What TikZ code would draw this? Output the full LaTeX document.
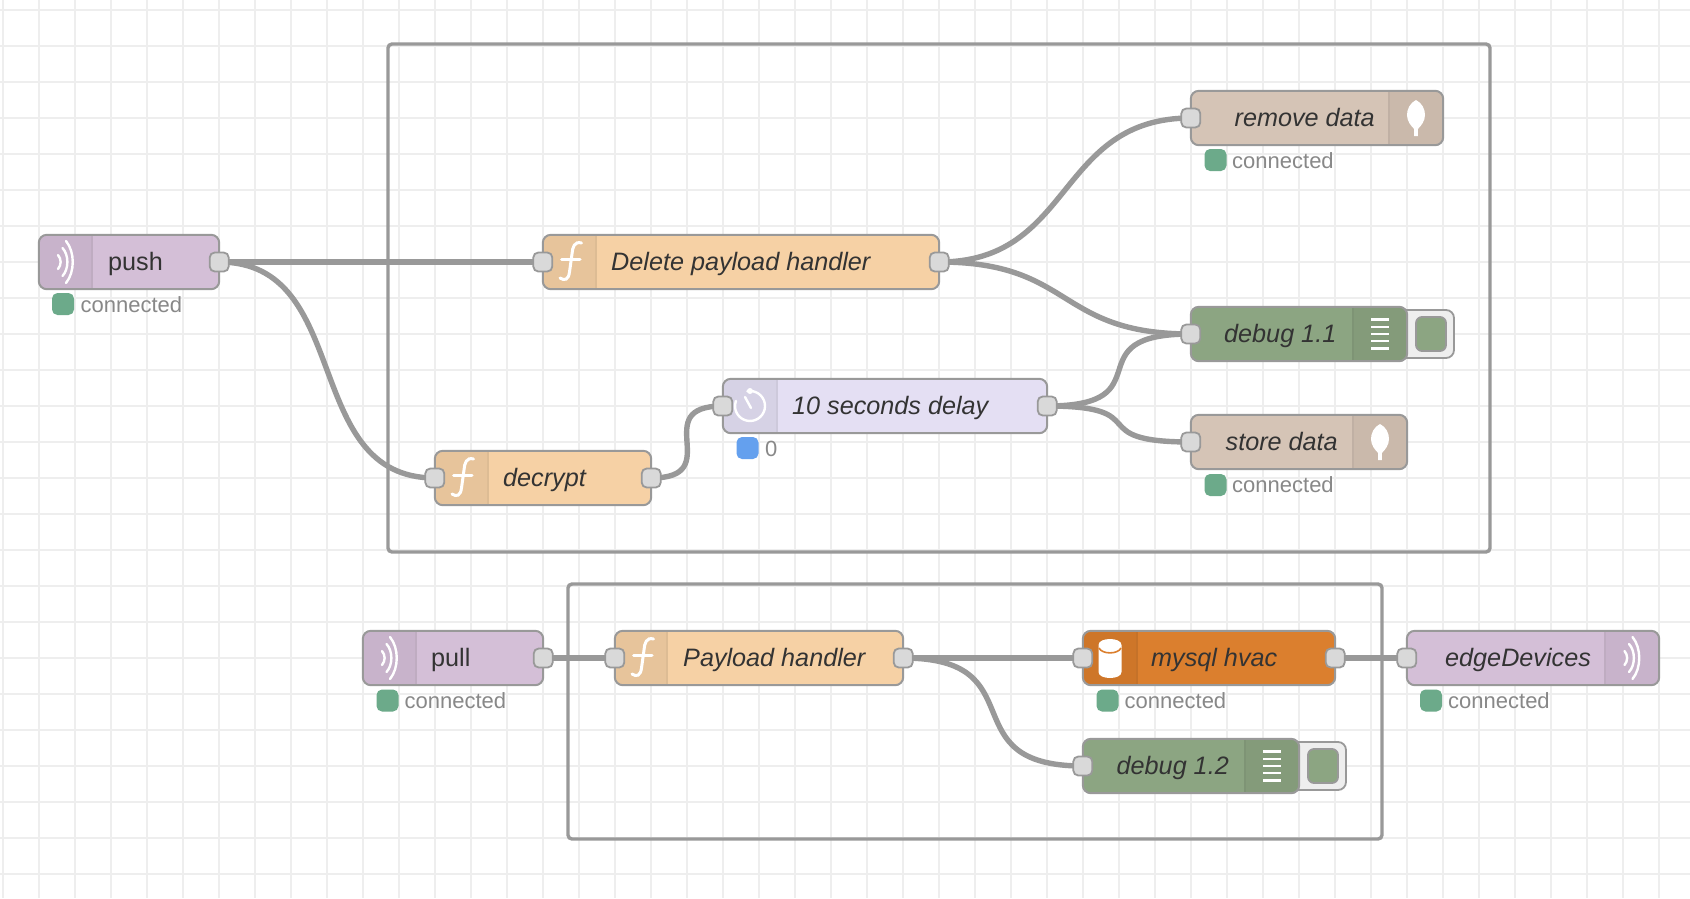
\documentclass[tikz,border=0pt]{standalone}
\usepackage{fontspec}
\setmainfont{Liberation Sans}
\definecolor{gridc}{HTML}{EEEEEE}
\definecolor{linec}{HTML}{999999}
\definecolor{labelc}{HTML}{333333}
\definecolor{statc}{HTML}{888888}
\definecolor{portc}{HTML}{D9D9D9}
\definecolor{okc}{HTML}{6CAA8A}
\definecolor{bluec}{HTML}{64A0EE}
\definecolor{mqb}{HTML}{D4BFD7}\definecolor{mqp}{HTML}{C8B3CB}
\definecolor{mgb}{HTML}{D5C4B6}\definecolor{mgp}{HTML}{CAB9AB}
\definecolor{dbb}{HTML}{8CA582}\definecolor{dbp}{HTML}{849B7A}
\definecolor{dlb}{HTML}{E4DFF3}\definecolor{dlp}{HTML}{D6D2E5}
\definecolor{myb}{HTML}{DB7F2E}\definecolor{myp}{HTML}{CE7629}
\definecolor{fnb}{HTML}{F6D1A5}\definecolor{fnp}{HTML}{E7C49B}
\pgfdeclarelayer{under}
\pgfsetlayers{under,main}
\tikzset{
  x=1pt,y=-1pt,
  nrbody/.style={minimum height=54pt,inner sep=0pt,rounded corners=8pt},
  nredge/.style={draw=linec,line width=2pt,rounded corners=8pt},
  nrdiv/.style={line width=1.5pt},
  nrport/.style={draw=linec,fill=portc,line width=1.8pt,minimum size=19pt,inner sep=0pt,rounded corners=5pt},
  wire/.style={draw=linec,line width=5.4pt},
  groupbox/.style={draw=linec,line width=3.4pt,rounded corners=4pt},
  nrlab/.style={anchor=base west,inner sep=0pt,text=labelc,font=\fontsize{25.2}{30}\selectfont},
  nritlab/.style={nrlab,font=\fontsize{25.2}{30}\selectfont\itshape},
  stattext/.style={anchor=base west,inner sep=0pt,text=statc,font=\fontsize{22}{26}\selectfont},
  statbox/.style={minimum size=22pt,inner sep=0pt,rounded corners=5.5pt},
  icon/.style={draw=white,line width=2.4pt,line cap=round},
  btnback/.style={draw=linec,fill=gridc,line width=1.8pt,rounded corners=8pt,minimum height=48pt,inner sep=0pt},
  btn/.style={draw=linec,fill=dbb,line width=1.8pt,rounded corners=6pt,minimum width=30pt,minimum height=34pt,inner sep=0pt},
}
% name, x1, x2, yc, body, panel, panel from, panel to, divider x
\newcommand{\nrnode}[9]{%
  \pgfmathsetmacro{\cxv}{(#2+#3)/2}\pgfmathsetmacro{\wv}{#3-#2}
  \node[nrbody,fill=#5,minimum width=\wv pt] (#1) at (\cxv,#4) {};
  \begin{scope}
    \clip[rounded corners=8pt] (#1.north west) rectangle (#1.south east);
    \fill[#6] (#7,#4-27) rectangle (#8,#4+27);
  \end{scope}
  \draw[nrdiv,draw=#5!90!black] (#9,#4-27) -- (#9,#4+27);
  \draw[nredge] (#1.north west) rectangle (#1.south east);
}
\newcommand{\icowave}[2]{\begin{scope}[shift={(#1,#2)}]
  \draw[icon] (0.5,-21) .. controls (9.5,-10) and (9.5,10) .. (0.5,21);
  \draw[icon] (-3,-14) .. controls (3.5,-7) and (3.5,7) .. (-3,14);
  \draw[icon] (-7.5,-7) .. controls (-4,-3) and (-4,3) .. (-7.5,7);
\end{scope}}
\newcommand{\icofunc}[2]{\begin{scope}[shift={(#1,#2)}]
  \draw[icon,line width=3pt] (12,-19) .. controls (5,-21) and (3,-15) .. (2.5,-8)
     -- (0,10) .. controls (-1,18) and (-5,19) .. (-9.5,16);
  \draw[icon,line width=3pt] (-8,-3) -- (10.5,-3);
\end{scope}}
\newcommand{\icoleaf}[2]{\begin{scope}[shift={(#1,#2)}]
  \fill[white] (0,-18) .. controls (6,-15) and (9,-9) .. (9,-3)
     .. controls (9,3) and (5,8) .. (1.8,11) -- (1.8,18) -- (-1.8,18) -- (-1.8,11)
     .. controls (-5,8) and (-9,3) .. (-9,-3)
     .. controls (-9,-9) and (-6,-15) .. (0,-18) -- cycle;
\end{scope}}
\newcommand{\icodebug}[2]{\begin{scope}[shift={(#1,#2)}]
  \foreach \ly in {-14.4,-7.2,0,7.2,14.4}{\draw[draw=white,line width=2.4pt] (-9,\ly) -- (9,\ly);}
\end{scope}}
\begin{document}
\begin{tikzpicture}
\useasboundingbox (0,0) rectangle (1690,898);
\begin{pgfonlayer}{under}
  \fill[white] (0,0) rectangle (1690,898);
  \foreach \gx in {0,...,46}{\draw[gridc,line width=2pt] (3+36*\gx,0) -- (3+36*\gx,898);}
  \foreach \gy in {0,...,24}{\draw[gridc,line width=2pt] (0,10+36*\gy) -- (1690,10+36*\gy);}
  \draw[groupbox] (388,44) rectangle (1490,552);
  \draw[groupbox] (568,584) rectangle (1382,839);
\end{pgfonlayer}

% debug side buttons
\node[btnback,minimum width=59pt] (btnA) at (1424.5,334) {};
\node[btn] (btnAin) at (1431,334) {};
\node[btnback,minimum width=59pt] (btnB) at (1316.5,766) {};
\node[btn] (btnBin) at (1323,766) {};

% nodes
\nrnode{push}{39}{219}{262}{mqb}{mqp}{39}{92}{92}
\icowave{65.5}{262}
\node[nrlab] (pushL) at (108,270) {push};
\node[nrport] (push-out) at (push.east) {};
\node[statbox,fill=okc] (pushS) at (63,304) {};
\node[stattext] (pushT) at (80.5,312) {connected};

\nrnode{del}{543}{939}{262}{fnb}{fnp}{543}{596}{596}
\icofunc{569.5}{262}
\node[nritlab] (delL) at (611,270) {Delete payload handler};
\node[nrport] (del-in) at (del.west) {};
\node[nrport] (del-out) at (del.east) {};

\nrnode{dec}{435}{651}{478}{fnb}{fnp}{435}{488}{488}
\icofunc{461.5}{478}
\node[nritlab] (decL) at (503,486) {decrypt};
\node[nrport] (dec-in) at (dec.west) {};
\node[nrport] (dec-out) at (dec.east) {};

\nrnode{delay}{723}{1047}{406}{dlb}{dlp}{723}{777}{777}
\begin{scope}[shift={(750,406)}]
  \draw[icon] (-2.6,-14.8) arc[start angle=100,end angle=-200,radius=15pt];
  \fill[white] (0,-15) circle (3pt);
  \draw[icon] (1,2) -- (-5,-9);
\end{scope}
\node[nritlab] (delayL) at (792,414) {10 seconds delay};
\node[nrport] (delay-in) at (delay.west) {};
\node[nrport] (delay-out) at (delay.east) {};
\node[statbox,fill=bluec] (delayS) at (747.5,448) {};
\node[stattext] (delayT) at (765,456) {0};

\nrnode{rem}{1191}{1443}{118}{mgb}{mgp}{1389}{1443}{1389}
\icoleaf{1416}{118}
\node[nritlab] (remL) at (1234.5,126) {remove data};
\node[nrport] (rem-in) at (rem.west) {};
\node[statbox,fill=okc] (remS) at (1215.5,160) {};
\node[stattext] (remT) at (1232,168) {connected};

\nrnode{dbgA}{1191}{1407}{334}{dbb}{dbp}{1353}{1407}{1353}
\icodebug{1380}{334}
\node[nritlab] (dbgAL) at (1224,342) {debug 1.1};
\node[nrport] (dbgA-in) at (dbgA.west) {};

\nrnode{sto}{1191}{1407}{442}{mgb}{mgp}{1353}{1407}{1353}
\icoleaf{1380}{442}
\node[nritlab] (stoL) at (1225.5,450) {store data};
\node[nrport] (sto-in) at (sto.west) {};
\node[statbox,fill=okc] (stoS) at (1215.5,485) {};
\node[stattext] (stoT) at (1232,492.5) {connected};

\nrnode{pull}{363}{543}{658}{mqb}{mqp}{363}{416}{416}
\icowave{389.5}{658}
\node[nrlab] (pullL) at (431,666) {pull};
\node[nrport] (pull-out) at (pull.east) {};
\node[statbox,fill=okc] (pullS) at (387.5,700.5) {};
\node[stattext] (pullT) at (404.5,708.5) {connected};

\nrnode{pay}{615}{903}{658}{fnb}{fnp}{615}{667}{667}
\icofunc{641.5}{658}
\node[nritlab] (payL) at (683,666) {Payload handler};
\node[nrport] (pay-in) at (pay.west) {};
\node[nrport] (pay-out) at (pay.east) {};

\nrnode{my}{1083}{1335}{658}{myb}{myp}{1083}{1137}{1137}
\begin{scope}[shift={(1110,658)}]
  \fill[white] (-11.5,-13) -- (-11.5,14) .. controls (-11.5,22) and (11.5,22) .. (11.5,14) -- (11.5,-13)
     .. controls (11.5,-21) and (-11.5,-21) .. (-11.5,-13) -- cycle;
  \draw[myb,line width=1.6pt] (-11,-10) .. controls (-8,-3.5) and (8,-3.5) .. (11,-10);
\end{scope}
\node[nritlab] (myL) at (1151,666) {mysql hvac};
\node[nrport] (my-in) at (my.west) {};
\node[nrport] (my-out) at (my.east) {};
\node[statbox,fill=okc] (myS) at (1107.5,700.5) {};
\node[stattext] (myT) at (1124.5,708.5) {connected};

\nrnode{dbgB}{1083}{1299}{766}{dbb}{dbp}{1245}{1299}{1245}
\icodebug{1272}{766}
\node[nritlab] (dbgBL) at (1116.5,774) {debug 1.2};
\node[nrport] (dbgB-in) at (dbgB.west) {};

\nrnode{edge}{1407}{1659}{658}{mqb}{mqp}{1605}{1659}{1605}
\icowave{1632}{658}
\node[nritlab] (edgeL) at (1445,666) {edgeDevices};
\node[nrport] (edge-in) at (edge.west) {};
\node[statbox,fill=okc] (edgeS) at (1431,700.5) {};
\node[stattext] (edgeT) at (1448,708.5) {connected};

% wires
\begin{pgfonlayer}{under}
  \draw[wire] (push-out.center) -- (del-in.center);
  \draw[wire] (push-out.center) .. controls +(135,0) and +(-135,0) .. (dec-in.center);
  \draw[wire] (del-out.center) .. controls +(135,0) and +(-135,0) .. (rem-in.center);
  \draw[wire] (del-out.center) .. controls +(135,0) and +(-135,0) .. (dbgA-in.center);
  \draw[wire] (dec-out.center) .. controls +(76,0) and +(-76,0) .. (delay-in.center);
  \draw[wire] (delay-out.center) .. controls +(120,0) and +(-120,0) .. (dbgA-in.center);
  \draw[wire] (delay-out.center) .. controls +(111,0) and +(-111,0) .. (sto-in.center);
  \draw[wire] (pull-out.center) -- (pay-in.center);
  \draw[wire] (pay-out.center) -- (my-in.center);
  \draw[wire] (pay-out.center) .. controls +(135,0) and +(-135,0) .. (dbgB-in.center);
  \draw[wire] (my-out.center) -- (edge-in.center);
\end{pgfonlayer}
\end{tikzpicture}
\end{document}
